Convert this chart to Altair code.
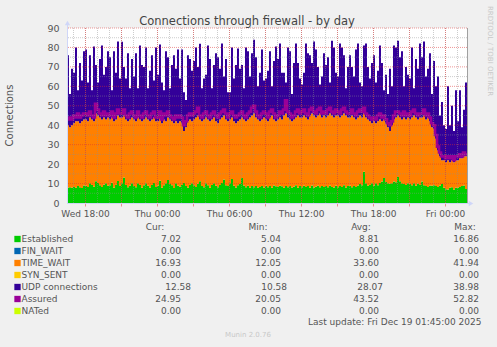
import altair as alt
import pandas as pd

# ---------------- data (10-minute samples, Wed 16:30 -> Fri 01:50) ----------------
start_hour = 16.5          # hours since Wed 00:00
step_hours = 1.0 / 6.0

established = [
    7.8, 8.1, 7.9,
    8.2, 7.9, 8.8, 8.1, 7.7, 9.0,
    8.9, 8.2, 10.1, 9.2, 8.3, 11.2,
    10.3, 9.1, 8.2, 9.4, 10.2, 8.9,
    9.1, 10.4, 7.8, 9.2, 11.3, 8.7,
    10.2, 13.1, 9.3, 8.1, 9.0, 10.1,
    8.8, 8.1, 10.2, 9.3, 7.9, 9.1,
    10.1, 8.9, 8.0, 9.2, 10.3, 8.2,
    9.0, 11.4, 7.9, 9.1, 10.2, 11.8,
    9.8, 9.1, 7.7, 10.1, 8.9, 8.3,
    9.2, 10.3, 8.8, 7.9, 9.3, 10.1,
    9.1, 8.2, 9.9, 11.2, 8.8, 8.1,
    10.2, 9.1, 7.8, 9.2, 10.1, 8.9,
    8.1, 9.2, 10.3, 12.1, 9.1, 8.8,
    10.1, 12.4, 8.9, 8.0, 9.1, 9.8,
    12.8, 9.0, 8.1, 8.9, 7.9, 8.8,
    8.1, 8.7, 7.9, 8.2, 8.8, 8.0,
    8.9, 8.1, 8.7, 7.8, 9.0, 8.6,
    8.2, 8.9, 8.6, 7.9, 8.8, 8.1,
    8.8, 8.0, 8.3, 9.1, 7.9, 8.7,
    8.1, 8.9, 8.2, 8.8, 7.9, 9.0,
    8.0, 8.3, 8.9, 8.1, 8.7, 8.2,
    8.8, 8.1, 9.0, 8.2, 8.0, 8.9,
    8.1, 8.8, 8.2, 9.1, 8.0, 8.7,
    8.9, 8.1, 8.8, 8.2, 9.0, 9.8,
    9.1, 16.1, 10.2, 8.9, 9.2, 10.1,
    9.0, 10.2, 9.1, 10.3, 11.1, 12.8,
    10.8, 10.1, 9.9, 10.2, 11.0, 10.7,
    13.4, 11.2, 10.1, 9.8, 9.2, 10.1,
    9.9, 9.1, 10.2, 8.9, 10.0, 9.2,
    11.0, 9.1, 8.8, 8.2, 9.0, 8.9,
    9.1, 8.8, 8.2, 9.0, 9.8, 7.8,
    7.1, 7.0, 7.9, 8.1, 6.9, 7.8,
    7.9, 8.2, 8.8, 9.0, 7.2, 7.0,
]

time_wait = [
    32.2, 30.9, 32.1,
    32.8, 34.1, 33.2, 32.9, 34.3, 34.0,
    34.1, 33.8, 33.9, 33.8, 33.7, 34.8,
    34.7, 34.9, 34.8, 34.6, 32.8, 35.1,
    33.9, 33.6, 34.2, 33.8, 33.7, 35.3,
    33.8, 31.9, 33.7, 33.9, 34.0, 33.9,
    34.2, 33.9, 33.8, 33.7, 34.1, 33.9,
    33.9, 34.1, 34.0, 33.8, 33.7, 33.8,
    33.0, 32.6, 33.1, 33.9, 31.8, 32.2,
    33.2, 32.9, 33.3, 31.9, 32.1, 33.7,
    31.8, 26.7, 30.2, 34.1, 33.7, 31.9,
    33.9, 35.8, 35.1, 31.8, 33.2, 34.9,
    33.8, 33.9, 34.2, 33.8, 33.9, 33.1,
    32.9, 33.8, 33.7, 32.9, 33.9, 33.2,
    32.9, 31.6, 33.1, 33.0, 32.9, 33.2,
    31.2, 34.0, 33.9, 34.1, 36.1, 36.2,
    37.9, 35.3, 35.1, 33.8, 34.2, 36.0,
    34.1, 33.9, 35.3, 37.2, 34.0, 33.4,
    34.8, 35.1, 34.4, 37.1, 37.2, 35.9,
    34.2, 34.0, 34.7, 34.9, 37.1, 35.3,
    35.9, 36.1, 35.8, 34.2, 37.1, 37.0,
    37.0, 35.7, 36.1, 37.9, 35.3, 36.8,
    35.2, 36.9, 37.0, 36.8, 36.0, 36.1,
    36.9, 35.2, 36.8, 36.9, 37.0, 35.3,
    35.1, 36.9, 35.2, 34.8, 35.0, 35.2,
    34.9, 29.9, 33.8, 34.1, 32.8, 30.9,
    33.0, 30.8, 32.9, 32.7, 30.9, 30.2,
    30.2, 28.9, 27.1, 29.8, 32.0, 33.3,
    31.6, 32.8, 32.9, 34.2, 33.8, 33.9,
    33.1, 34.9, 34.8, 35.1, 33.0, 34.8,
    33.0, 35.9, 34.2, 35.8, 33.0, 30.1,
    28.9, 24.2, 18.8, 15.0, 12.2, 14.2,
    13.9, 15.0, 13.1, 13.9, 14.1, 14.2,
    14.1, 14.8, 14.2, 15.0, 16.8, 16.9,
]

udp = [
    36, 17, 29,
    26, 38, 16, 31, 21, 35,
    36, 20, 32, 15, 38.5, 25,
    17, 30, 38, 22, 27, 34,
    32, 14, 36, 24, 38, 20,
    38.9, 25, 21, 35, 16, 30,
    22, 35, 15, 38, 29, 27,
    36, 16, 26, 33, 19, 38,
    24, 37.5, 21, 15, 36, 31,
    16, 29, 35, 27, 38, 22,
    38, 20, 14, 34, 31, 26,
    30, 36, 25, 38.9, 17, 21,
    22, 38, 32, 16, 27, 35,
    34, 26, 38, 20, 31, 15,
    14, 36, 22, 30, 37.5, 26,
    27, 16, 38, 35, 21, 32,
    38, 31, 17, 25, 36, 19,
    21, 26, 34, 15, 30, 38.5,
    31, 38, 24, 22, 16, 36,
    35, 14, 29, 38, 27, 20,
    17, 22, 38, 34, 31, 26,
    38, 35, 25, 15, 21, 32,
    27, 30, 16, 38.5, 36, 22,
    20, 38, 35, 30, 14, 26,
    32, 25, 21, 36, 38, 17,
    16, 35, 38, 27, 22, 31,
    34, 21, 26, 38, 30, 15,
    25, 17, 32, 20, 38, 36,
    38.5, 31, 35, 16, 27, 22,
    21, 36, 14, 30, 26, 38,
    31, 38, 22, 25, 35, 17,
    35, 27, 38, 21, 30, 18,
    17, 38, 19, 28, 16, 36,
    20, 35, 16, 24, 38, 12.6,
]

assured = [
    43, 44, 43,
    45, 44, 46, 44, 45, 46,
    46, 45, 47, 45, 44, 51,
    48, 46, 45, 47, 45, 46,
    45, 47, 44, 46, 48, 46,
    46, 48, 45, 44, 46, 47,
    45, 44, 47, 45, 44, 46,
    47, 45, 44, 46, 47, 44,
    44, 47, 43, 46, 45, 47,
    45, 44, 43, 45, 44, 45,
    44, 40, 42, 45, 46, 45,
    46, 47, 49, 45, 44, 46,
    47, 45, 44, 46, 47, 45,
    44, 46, 47, 48, 46, 44,
    46, 47, 45, 44, 45, 46,
    47, 45, 44, 46, 47, 49,
    50, 47, 45, 44, 46, 47,
    46, 44, 47, 48, 46, 44,
    45, 47, 46, 48, 52.8, 47,
    46, 44, 45, 47, 48, 46,
    47, 48, 46, 45, 48, 49,
    47, 46, 48, 49, 46, 47,
    46, 48, 49, 47, 46, 48,
    47, 46, 48, 49, 47, 46,
    46, 48, 46, 45, 47, 48,
    47, 49, 46, 45, 44, 43,
    44, 43, 45, 46, 44, 45,
    43, 41, 40, 42, 45, 47,
    47, 46, 45, 47, 45, 46,
    45, 47, 48, 46, 45, 46,
    46, 48, 45, 46, 44, 41,
    40, 35, 29, 26, 24, 24,
    23, 24, 23, 24, 22, 24,
    24, 25, 24, 26, 25, 25,
]

# legend table
legend_names = ["Established", "FIN_WAIT", "TIME_WAIT", "SYN_SENT",
                "UDP connections", "Assured", "NATed"]
legend_colors = ["#00CC00", "#0066B3", "#FF8000", "#FFCC00",
                 "#330099", "#990099", "#CCFF00"]
cur_vals = [7.02, 0.00, 16.93, 0.00, 12.58, 24.95, 0.00]
min_vals = [5.04, 0.00, 12.05, 0.00, 10.58, 20.05, 0.00]
avg_vals = [8.81, 0.00, 33.60, 0.00, 28.07, 43.52, 0.00]
max_vals = [16.86, 0.00, 41.94, 0.00, 38.98, 52.82, 0.00]
col_headers = ["Cur:", "Min:", "Avg:", "Max:"]

x_major = list(range(18, 50, 3))      # red grid / ticks every 3 h
x_minor = list(range(17, 50))         # gray grid every hour
y_major = list(range(10, 91, 10))
y_minor = list(range(5, 90, 10))
y_labels = list(range(0, 91, 10))

title_text = "Connections through firewall - by day"
y_title = "Connections"
side_text = "RRDTOOL / TOBI OETIKER"
last_update = "Last update: Fri Dec 19 01:45:00 2025"
version_text = "Munin 2.0.76"

# ---------------- build ----------------
n = len(established)
hours = [start_hour + i * step_hours for i in range(n)]

rows = []
for i, h in enumerate(hours):
    rows.append({"t": h, "series": "Established", "v": established[i], "ord": 0})
    rows.append({"t": h, "series": "TIME_WAIT", "v": time_wait[i], "ord": 1})
    rows.append({"t": h, "series": "UDP connections", "v": udp[i], "ord": 2})
stack_df = pd.DataFrame(rows)
asr_df = pd.DataFrame({"t": hours, "v": assured})

FONT = "DejaVu Sans"
TXT = "#555555"

xscale = alt.Scale(domain=[16.5, 16.5 + 400 / 12.0], nice=False, zero=False)
yscale = alt.Scale(domain=[0, 90], nice=False)

label_expr = ("datum.value % 6 != 0 ? '' : "
              "(datum.value < 24 ? 'Wed' : (datum.value < 48 ? 'Thu' : 'Fri')) + ' ' + "
              "((datum.value % 24) < 10 ? '0' : '') + (datum.value % 24) + ':00'")

xaxis = alt.Axis(values=x_major, labelExpr=label_expr, grid=False, domain=False,
                 tickColor="#E89090", tickSize=3, labelColor=TXT, labelFontSize=9,
                 labelFont=FONT, labelPadding=3, title=None, labelFlush=False,
                 labelOverlap=False)
yaxis = alt.Axis(values=y_labels, grid=False, domain=False, ticks=False,
                 labelColor=TXT, labelFontSize=9.5, labelFont=FONT, labelPadding=8,
                 title=None, labelOverlap=False)

def X(field):
    return alt.X(field, scale=xscale, axis=xaxis)

def Y(field, **kw):
    return alt.Y(field, scale=yscale, axis=yaxis, **kw)

areas = alt.Chart(stack_df).mark_area(interpolate="step-after").encode(
    x=X("t:Q"),
    y=Y("v:Q", stack="zero"),
    color=alt.Color("series:N", scale=alt.Scale(
        domain=["Established", "TIME_WAIT", "UDP connections"],
        range=["#00CC00", "#FF8000", "#330099"]), legend=None),
    order=alt.Order("ord:Q", sort="ascending"),
)

asr_line = alt.Chart(asr_df).mark_line(
    interpolate="step-after", color="#990099", strokeWidth=2.6
).encode(x=X("t:Q"), y=Y("v:Q"))

def vgrid(vals, color, op):
    return alt.Chart(pd.DataFrame({"h": vals})).mark_rule(
        color=color, opacity=op, strokeDash=[1, 1], strokeWidth=1, xOffset=0.5
    ).encode(x=X("h:Q"))

def hgrid(vals, color, op):
    return alt.Chart(pd.DataFrame({"g": vals})).mark_rule(
        color=color, opacity=op, strokeDash=[1, 1], strokeWidth=1
    ).encode(y=Y("g:Q"))

grid = [vgrid(x_minor, "#8F8F8F", 0.45), hgrid(y_minor, "#8F8F8F", 0.45),
        vgrid(x_major, "#DE3030", 0.5), hgrid(y_major, "#DE3030", 0.5)]

one = pd.DataFrame({"k": [0]})
AX = "#CFD6F8"
yline = alt.Chart(one).mark_rule(color=AX).encode(
    x=alt.value(0.5), y=alt.value(-5), y2=alt.value(175))
xline = alt.Chart(one).mark_rule(color=AX).encode(
    x=alt.value(0), x2=alt.value(404), y=alt.value(175.5))
yarrow = alt.Chart(one).mark_point(shape="triangle-up", filled=True, color=AX,
                                   size=28, opacity=1).encode(
    x=alt.value(0.5), y=alt.value(-5))
xarrow = alt.Chart(one).mark_point(shape="triangle-right", filled=True, color=AX,
                                   size=28, opacity=1).encode(
    x=alt.value(404), y=alt.value(175.5))
rborder = alt.Chart(one).mark_rule(color="#A0A0A0").encode(
    x=alt.value(400.5), y=alt.value(0), y2=alt.value(175))

def label(text, x, y, size, color=TXT, align="center", angle=0, baseline="middle"):
    return alt.Chart(pd.DataFrame({"s": [text]})).mark_text(
        font=FONT, fontSize=size, color=color, align=align, baseline=baseline,
        angle=angle
    ).encode(text="s:N", x=alt.value(x), y=alt.value(y))

texts = [
    label(title_text, 180, -6.5, 11.5, color="#444444"),
    label(y_title, -57, 87.5, 10, angle=270),
    label(side_text, 423, 23, 7, color="#C8C8C8", angle=90),
    label(last_update, 414.5, 294, 9, align="right"),
    label(version_text, 181, 307, 7, color="#C8C8C8"),
]

leg_df = pd.DataFrame({
    "name": legend_names, "color": legend_colors,
    "cur": cur_vals, "mn": min_vals, "avg": avg_vals, "mx": max_vals,
    "row": list(range(len(legend_names))),
})
leg_base = alt.Chart(leg_df).transform_calculate(
    py="211 + 12 * datum.row",
    sh="datum.row == 4 ? 1 : 0")
py = alt.Y("py:Q", scale=None, axis=None)

swatches = leg_base.mark_square(size=40, opacity=1).encode(
    x=alt.value(-49.5), y=py, color=alt.Color("color:N", scale=None, legend=None))
names = leg_base.mark_text(font=FONT, fontSize=9, color=TXT, align="left",
                           baseline="middle").encode(
    x=alt.value(-45.5), y=py, text="name:N")

val_layers = []
for field, xr, shift in [("cur", 114, 10), ("mn", 214, 6), ("avg", 312, 4), ("mx", 412, 0)]:
    val_layers.append(
        leg_base.transform_calculate(px=f"{xr} + datum.sh * {shift}").mark_text(
            font=FONT, fontSize=9, color=TXT, align="right", baseline="middle"
        ).encode(x=alt.X("px:Q", scale=None, axis=None), y=py,
                 text=alt.Text(f"{field}:Q", format=".2f")))

hdr_df = pd.DataFrame({"h": col_headers, "px": [88, 191, 294, 398]})
headers = alt.Chart(hdr_df).mark_text(font=FONT, fontSize=9, color=TXT,
                                      align="center", baseline="middle").encode(
    x=alt.X("px:Q", scale=None, axis=None), y=alt.value(198.7), text="h:N")

chart = alt.layer(
    areas, asr_line, *grid, yline, xline, yarrow, xarrow, rborder,
    *texts, swatches, names, *val_layers, headers
).properties(
    width=400, height=175,
    autosize=alt.AutoSizeParams(type="none"),
    padding={"left": 67, "top": 28, "right": 30, "bottom": 144},
    background="#F0F0F0",
).configure_view(stroke=None, fill="white")

chart.save("out.html", embed_options={"renderer": "svg", "actions": False})
